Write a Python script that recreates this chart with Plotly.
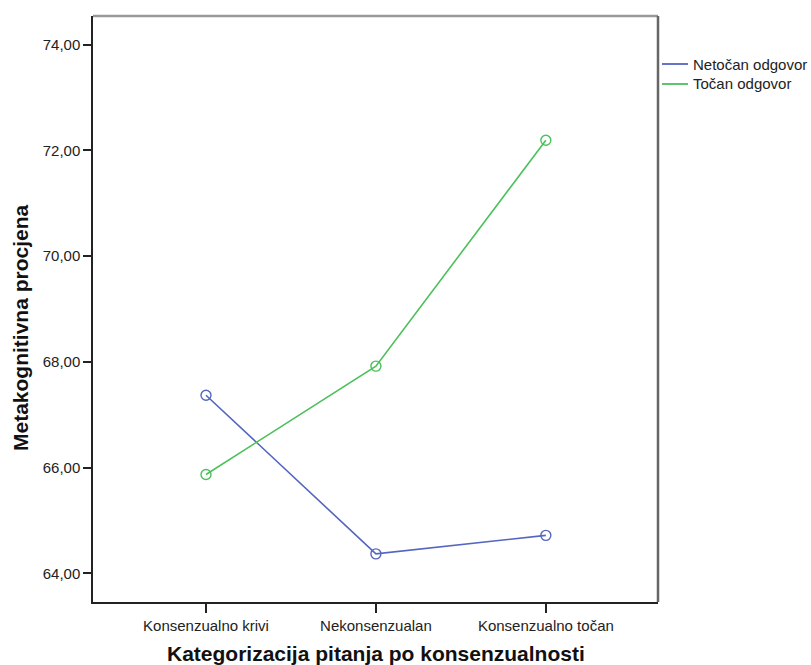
import plotly.graph_objects as go

categories = ["Konsenzualno krivi", "Nekonsenzualan", "Konsenzualno točan"]
netocan = [67.37, 64.37, 64.72]
tocan = [65.87, 67.92, 72.19]
series_names = ["Netočan odgovor", "Točan odgovor"]
y_ticks = [64, 66, 68, 70, 72, 74]

blue = "#5466c0"
green = "#4cc05a"
colors = [blue, green]
xpos = list(range(len(categories)))

W, H = 811, 665
L, R, T, B = 93, 658, 16, 602  # plot area in pixels
pw, ph = R - L, B - T


def px(x):
    return (x - L) / pw


def py(y):
    return 1 - (y - T) / ph


fig = go.Figure()
for name, vals, col in zip(series_names, [netocan, tocan], colors):
    fig.add_trace(go.Scatter(
        x=xpos, y=vals, mode="lines+markers", name=name, showlegend=False,
        line=dict(color=col, width=1.6),
        marker=dict(symbol="circle-open", size=10, color=col, line=dict(width=1.4, color=col)),
    ))

font = "Liberation Sans, Arial, sans-serif"

shapes = [
    dict(type="line", xref="paper", yref="paper", x0=0, x1=1, y0=1, y1=1,
         line=dict(color="#999", width=2.5)),
    dict(type="line", xref="paper", yref="paper", x0=1, x1=1, y0=0, y1=1,
         line=dict(color="#666", width=2.5)),
]
annotations = [
    dict(text="<b>Kategorizacija pitanja po konsenzualnosti</b>", xref="paper", yref="paper",
         x=0.5, y=py(653), xanchor="center", yanchor="middle", showarrow=False,
         font=dict(size=21, color="#111", family=font)),
    dict(text="<b>Metakognitivna procjena</b>", xref="paper", yref="paper",
         x=px(20), y=py(328), xanchor="center", yanchor="middle",
         showarrow=False, textangle=-90,
         font=dict(size=21, color="#111", family=font)),
]
# legend (drawn manually so it does not push the plot margin)
for i, (name, col) in enumerate(zip(series_names, colors)):
    yy = 64 + 20 * i
    shapes.append(dict(type="line", xref="paper", yref="paper",
                       x0=px(662), x1=px(688), y0=py(yy), y1=py(yy),
                       line=dict(color=col, width=1.8)))
    annotations.append(dict(text=name, xref="paper", yref="paper", x=px(691), y=py(yy),
                            xanchor="left", yanchor="middle", showarrow=False,
                            font=dict(size=15, color="#222", family=font)))

fig.update_layout(
    width=W, height=H,
    margin=dict(l=L, r=W - R, t=T, b=H - B, autoexpand=False),
    paper_bgcolor="white", plot_bgcolor="white",
    separators=", ",
    font=dict(family=font, size=15, color="#222"),
    showlegend=False,
    xaxis=dict(
        range=[-0.665, 2.66], tickmode="array", tickvals=xpos, ticktext=categories,
        showgrid=False, zeroline=False, showline=True, linecolor="#222", linewidth=1.5,
        ticks="outside", ticklen=9, tickcolor="#222", tickwidth=1.5,
        tickfont=dict(size=15, color="#222"), mirror=False,
    ),
    yaxis=dict(
        range=[63.46, 74.54], tickmode="array", tickvals=y_ticks, tickformat=".2f",
        showgrid=False, zeroline=False, showline=True, linecolor="#222", linewidth=1.5,
        ticks="outside", ticklen=8, tickcolor="#222", tickwidth=1.5,
        tickfont=dict(size=15, color="#222"),
    ),
    shapes=shapes,
    annotations=annotations,
)

fig.write_html("out.html", config={"displayModeBar": False},
               post_script="document.body.style.margin='0';document.body.style.overflow='hidden';")
